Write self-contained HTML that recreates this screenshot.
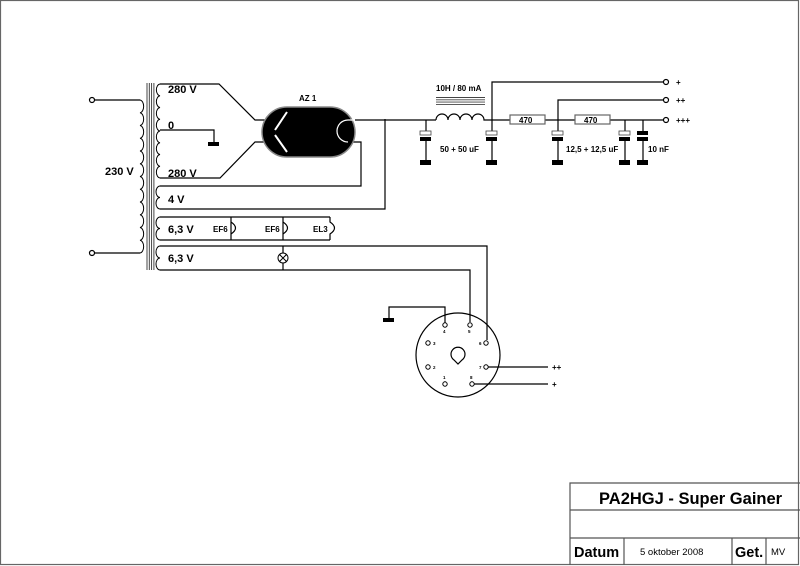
<!DOCTYPE html>
<html><head><meta charset="utf-8"><style>
html,body{margin:0;padding:0;background:#fff;}
svg{display:block;}
text{font-family:"Liberation Sans",Arial,sans-serif;font-weight:bold;fill:#000;}
</style></head><body>
<svg width="800" height="566" viewBox="0 0 800 566" xmlns="http://www.w3.org/2000/svg">
<g fill="none" stroke="#000" stroke-width="1.2">
<rect x="0.5" y="0.5" width="798" height="564" stroke="#666"/>
<path d="M570 565 V483 H800 M570 510 H800 M570 538 H800 M624 538 V565 M732 538 V565 M766 538 V565" stroke="#555"/>
<circle cx="92" cy="100" r="2.5"/><circle cx="92" cy="253" r="2.5"/>
<path d="M94.5 100 H140 M94.5 253 H140"/>
<path d="M140 100 a4 6.4 0 0 1 0 12.75 a4 6.4 0 0 1 0 12.75 a4 6.4 0 0 1 0 12.75 a4 6.4 0 0 1 0 12.75 a4 6.4 0 0 1 0 12.75 a4 6.4 0 0 1 0 12.75 a4 6.4 0 0 1 0 12.75 a4 6.4 0 0 1 0 12.75 a4 6.4 0 0 1 0 12.75 a4 6.4 0 0 1 0 12.75 a4 6.4 0 0 1 0 12.75 a4 6.4 0 0 1 0 12.75" stroke-width="1"/>
<path d="M147 83 V270 M149.3 83 V270 M151.6 83 V270 M153.9 83 V270" stroke="#333" stroke-width="0.9"/>
<g stroke-width="1">
<path d="M160 84 a4 5.9 0 0 0 0 11.75 a4 5.9 0 0 0 0 11.75 a4 5.9 0 0 0 0 11.75 a4 5.9 0 0 0 0 11.75 a4 5.9 0 0 0 0 11.75 a4 5.9 0 0 0 0 11.75 a4 5.9 0 0 0 0 11.75 a4 5.9 0 0 0 0 11.75"/>
<path d="M160 186 a4 5.75 0 0 0 0 11.5 a4 5.75 0 0 0 0 11.5"/>
<path d="M160 217 a4 5.75 0 0 0 0 11.5 a4 5.75 0 0 0 0 11.5"/>
<path d="M160 246 a4 6 0 0 0 0 12 a4 6 0 0 0 0 12"/>
</g>
<path d="M160 84 H219 L255 120 H270 M160 130 H214 V142 M160 178 H220 L255 142 H270"/>
<path d="M160 186 H361 V142 H348 M160 209 H385 V119"/>
<path d="M160 217 H330 M160 240 H231 V217 M283 240 V217 M231 240 H330"/>
<path d="M231 222 q9 6 0 12 M283 222 q9 6 0 12 M330 217 V222 q9 6 0 12 V240"/>
<path d="M160 246 H487 V340 M160 270 H470 V322 M283 246 V270"/>
<path d="M355 120 H436 M426 120 V131 M426 140 V160"/>
<path d="M436 120 a6 6 0 0 1 12 0 a6 6 0 0 1 12 0 a6 6 0 0 1 12 0 a6 6 0 0 1 12 0 H510 M545 120 H575 M610 120 H663.5"/>
<path d="M436 97.5 H485 M436 99.8 H485 M436 102.1 H485 M436 104.4 H485" stroke="#444" stroke-width="0.9"/>
<path d="M492 131 V82 H663.5 M492 140 V160 M558 131 V100 H663.5 M558 140 V160 M625 120 V131 M625 140 V160 M643 120 V131 M643 140 V160"/>
<circle cx="666" cy="82" r="2.5"/><circle cx="666" cy="100" r="2.5"/><circle cx="666" cy="120" r="2.5"/>
<rect x="510" y="115" width="35" height="9" stroke="#666"/>
<rect x="575" y="115" width="35" height="9" stroke="#666"/>
<circle cx="458" cy="355" r="42"/>
<path d="M454 360 a7 7 0 1 1 8 0 l-4 4z"/>
<g stroke-width="1"><circle cx="445" cy="325" r="2.2"/><circle cx="470" cy="325" r="2.2"/><circle cx="486" cy="343" r="2.2"/><circle cx="428" cy="343" r="2.2"/><circle cx="428" cy="367" r="2.2"/><circle cx="486" cy="367" r="2.2"/><circle cx="445" cy="384" r="2.2"/><circle cx="472" cy="384" r="2.2"/></g>
<path d="M445 322.8 V307 H389 V318 M488.2 367 H548 M474.2 384 H548"/>
</g>
<rect x="208" y="142" width="11" height="4"/>
<rect x="383" y="318" width="11" height="4"/>
<rect x="262" y="107" width="93" height="50" rx="25" fill="#000" stroke="#888" stroke-width="1.5"/>
<path d="M348 142 a11 11 0 0 1 0 -22 H355" fill="none" stroke="#fff" stroke-width="1.2"/>
<path d="M287 112 L275 130 M275 135 L287 152" stroke="#fff" stroke-width="2"/>
<g fill="#000">
<rect x="420" y="131" width="11" height="4" fill="#fff" stroke="#444" stroke-width="0.8"/><rect x="420" y="137" width="11" height="4"/><rect x="420" y="160" width="11" height="5"/>
<rect x="486" y="131" width="11" height="4" fill="#fff" stroke="#444" stroke-width="0.8"/><rect x="486" y="137" width="11" height="4"/><rect x="486" y="160" width="11" height="5"/>
<rect x="552" y="131" width="11" height="4" fill="#fff" stroke="#444" stroke-width="0.8"/><rect x="552" y="137" width="11" height="4"/><rect x="552" y="160" width="11" height="5"/>
<rect x="619" y="131" width="11" height="4" fill="#fff" stroke="#444" stroke-width="0.8"/><rect x="619" y="137" width="11" height="4"/><rect x="619" y="160" width="11" height="5"/>
<rect x="637" y="131" width="11" height="4"/><rect x="637" y="137" width="11" height="4"/><rect x="637" y="160" width="11" height="5"/>
</g>
<circle cx="283" cy="258" r="5" fill="#fff" stroke="#000"/>
<path d="M279.5 254.5 L286.5 261.5 M286.5 254.5 L279.5 261.5" stroke="#000"/>
<g font-size="11">
<text x="168" y="93">280 V</text><text x="168" y="129">0</text><text x="168" y="177">280 V</text>
<text x="105" y="175">230 V</text>
<text x="168" y="203">4 V</text><text x="168" y="233">6,3 V</text><text x="168" y="262">6,3 V</text>
</g>
<g font-size="8">
<text x="299" y="101">AZ 1</text>
<text x="213" y="232">EF6</text><text x="265" y="232">EF6</text><text x="313" y="232">EL3</text>
<text x="436" y="91">10H / 80 mA</text>
<text x="519" y="123">470</text><text x="584" y="123">470</text>
<text x="440" y="152">50 + 50 uF</text><text x="566" y="152">12,5 + 12,5 uF</text><text x="648" y="152">10 nF</text>
<text x="676" y="85">+</text><text x="676" y="103">++</text><text x="676" y="123">+++</text>
<text x="552" y="370">++</text><text x="552" y="387">+</text>
</g>
<g font-size="4.5">
<text x="443" y="333">4</text><text x="468" y="333">5</text><text x="479" y="345">6</text><text x="433" y="345">3</text>
<text x="433" y="369">2</text><text x="479" y="369">7</text><text x="443" y="379">1</text><text x="470" y="379">8</text>
</g>
<text x="599" y="504" font-size="16.5">PA2HGJ - Super Gainer</text>
<text x="574" y="557" font-size="14.5">Datum</text>
<text x="735" y="557" font-size="14.5">Get.</text>
<text x="640" y="555" font-size="9.5" style="font-weight:normal">5 oktober 2008</text>
<text x="771" y="555" font-size="9.5" style="font-weight:normal">MV</text>
</svg>
</body></html>
